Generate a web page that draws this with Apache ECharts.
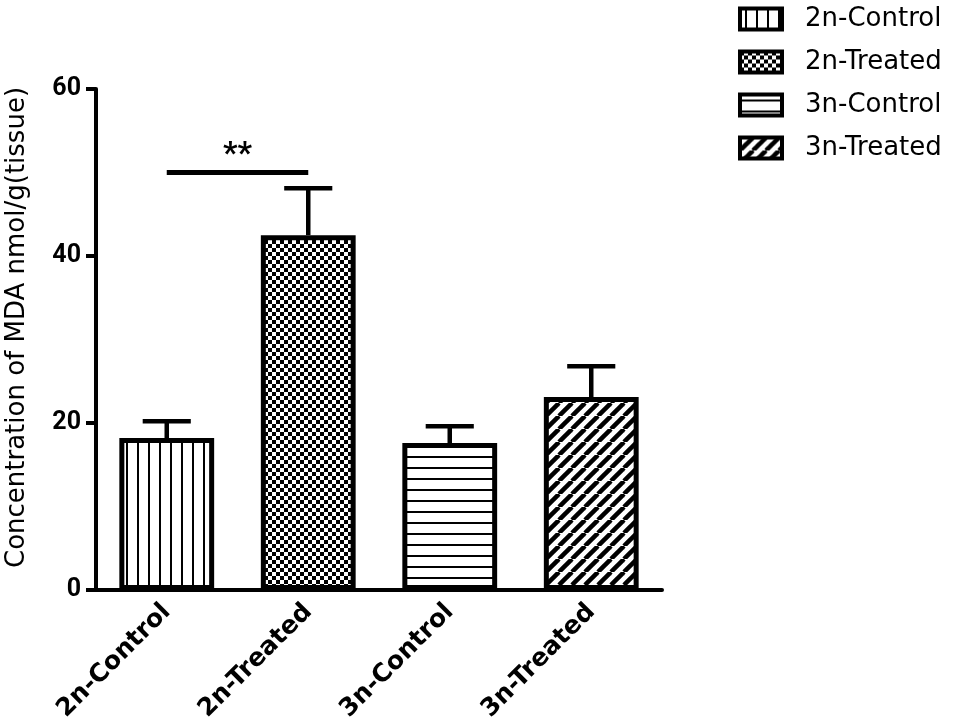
<!DOCTYPE html>
<html>
<head>
<meta charset="utf-8">
<script src="https://cdn.jsdelivr.net/npm/echarts@6/dist/echarts.min.js"></script>
<style>html,body{margin:0;padding:0;background:#fff;}#c{width:954px;height:728px;}</style>
</head>
<body>
<div id="c"></div>
<script>
const categories = ['2n-Control', '2n-Treated', '3n-Control', '3n-Treated'];
const means = [18.2, 42.5, 17.6, 23.1];
const errors = [2.0, 5.6, 2.0, 3.7];
const yTicks = [0, 20, 40, 60];
const significance = { from: '2n-Control', to: '2n-Treated', y: 50, label: '**' };
const yTitle = 'Concentration of MDA nmol/g(tissue)';

function makeCanvas(w, h, draw) {
  const c = document.createElement('canvas');
  c.width = w; c.height = h;
  const ctx = c.getContext('2d');
  ctx.fillStyle = '#fff'; ctx.fillRect(0, 0, w, h);
  ctx.fillStyle = '#000'; ctx.strokeStyle = '#000';
  draw(ctx, w, h);
  return c;
}
const patVert = makeCanvas(11, 10, (ctx) => { ctx.fillRect(5, 0, 2, 10); });
const patCheck = makeCanvas(8, 8, (ctx) => { ctx.fillRect(0, 0, 4, 4); ctx.fillRect(4, 4, 4, 4); });
const patHoriz = makeCanvas(10, 11, (ctx) => { ctx.fillRect(0, 5, 10, 2); });
const patDiag = makeCanvas(13, 13, (ctx, w, h) => {
  ctx.lineWidth = 4.5;
  for (const o of [-w, 0, w]) { ctx.beginPath(); ctx.moveTo(o, h); ctx.lineTo(o + w, 0); ctx.stroke(); }
});
const patterns = [patVert, patCheck, patHoriz, patDiag];

const fontWide = '"DejaVu Sans", Verdana, sans-serif';
const fontNum = 'Roboto, "Open Sans", sans-serif';

const barSeries = categories.map((name, i) => ({
  name: name,
  type: 'bar',
  barWidth: '67%',
  barGap: '-100%',
  data: categories.map((_, j) => j === i ? means[j] : '-'),
  itemStyle: { color: { image: patterns[i], repeat: 'repeat' }, borderColor: '#000', borderWidth: 5 },
  emphasis: { disabled: true },
  z: 3,
  markLine: i === 0 ? {
    silent: true,
    symbol: ['none', 'none'],
    lineStyle: { color: '#000', width: 5, type: 'solid' },
    label: { show: true, position: 'middle', formatter: significance.label, color: '#000', fontSize: 32, fontWeight: 'bold', fontFamily: fontNum, distance: 2 },
    data: [[{ coord: [significance.from, significance.y] }, { coord: [significance.to, significance.y] }]]
  } : undefined
}));

const errorSeries = {
  type: 'custom',
  name: 'err',
  z: 2,
  data: categories.map((c, i) => [i, means[i], means[i] + errors[i]]),
  renderItem: function (params, api) {
    const x = api.value(0);
    const p0 = api.coord([x, api.value(1)]);
    const p1 = api.coord([x, api.value(2)]);
    const band = api.size([1, 0])[0];
    const half = band * 0.17;
    const style = { stroke: '#000', lineWidth: 4.5 };
    return {
      type: 'group',
      children: [
        { type: 'line', shape: { x1: p0[0], y1: p0[1], x2: p1[0], y2: p1[1] }, style: style },
        { type: 'line', shape: { x1: p1[0] - half, y1: p1[1], x2: p1[0] + half, y2: p1[1] }, style: style }
      ]
    };
  }
};

const chart = echarts.init(document.getElementById('c'));
chart.setOption({
  animation: false,
  backgroundColor: '#fff',
  grid: { left: 96, right: 292, top: 89, bottom: 138, containLabel: false, outerBoundsMode: 'none' },
  legend: {
    data: categories,
    orient: 'vertical',
    left: 733, top: 1,
    itemWidth: 42, itemHeight: 21, itemGap: 17,
    icon: 'rect',
    selectedMode: false,
    itemStyle: { borderWidth: 4, borderColor: '#000' },
    textStyle: { fontSize: 26, color: '#000', fontFamily: fontWide, padding: [0, 0, 0, 18] }
  },
  xAxis: {
    type: 'category',
    data: categories,
    axisLine: { lineStyle: { color: '#000', width: 4 } },
    axisTick: { alignWithLabel: true, length: 10, lineStyle: { color: '#000', width: 4 } },
    axisLabel: { interval: 0, rotate: 45, fontSize: 25, fontWeight: 'bold', color: '#000', fontFamily: fontWide, margin: 18 }
  },
  yAxis: {
    type: 'value',
    min: yTicks[0], max: yTicks[yTicks.length - 1], interval: 20,
    name: yTitle,
    nameLocation: 'middle',
    nameGap: 66,
    nameTextStyle: { fontSize: 26, color: '#000', fontFamily: fontWide, padding: [0, 0, 0, 24] },
    splitLine: { show: false },
    axisLine: { show: true, lineStyle: { color: '#000', width: 4 } },
    axisTick: { show: true, length: 10, lineStyle: { color: '#000', width: 4 } },
    axisLabel: { fontSize: 25, fontWeight: 'bold', color: '#000', fontFamily: fontNum, margin: 15 }
  },
  series: [errorSeries].concat(barSeries)
});
</script>
</body>
</html>
